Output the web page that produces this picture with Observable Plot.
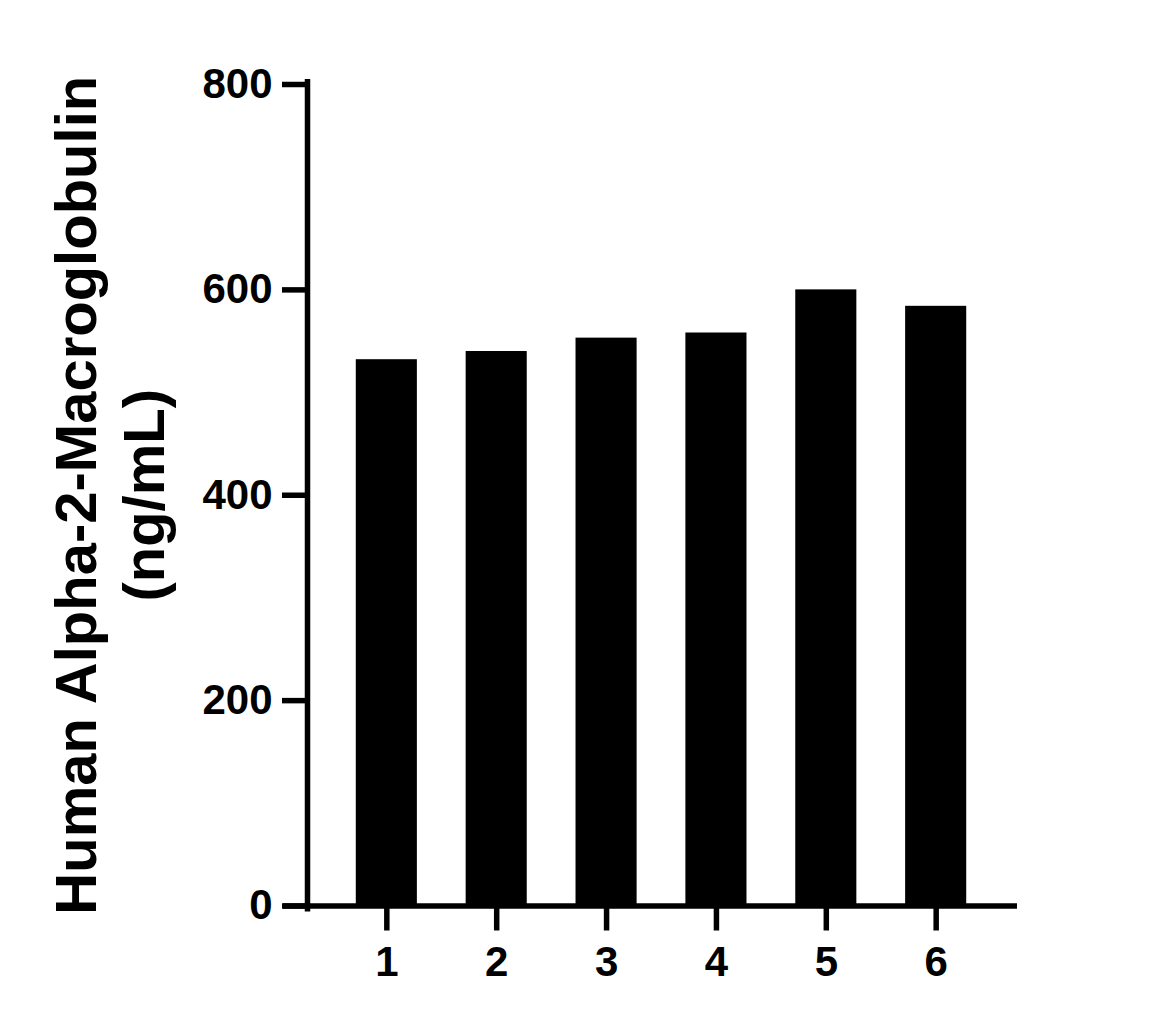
<!DOCTYPE html>
<html>
<head>
<meta charset="utf-8">
<script src="https://cdn.jsdelivr.net/npm/d3@7"></script>
<script src="https://cdn.jsdelivr.net/npm/@observablehq/plot@0.6"></script>
<style>
  html, body { margin: 0; padding: 0; background: #fff; }
</style>
</head>
<body>
<div id="chart"></div>
<script>
const samples = ["1", "2", "3", "4", "5", "6"];
const values = [532, 540, 553, 558, 600, 584];
const yTicks = [0, 200, 400, 600, 800];
const yLabel = "Human Alpha-2-Macroglobulin\n(ng/mL)";

const data = samples.map((s, i) => ({sample: s, value: values[i]}));

const chart = Plot.plot({
  width: 1149,
  height: 1023,
  marginLeft: 307,
  marginRight: 134,
  marginTop: 84,
  marginBottom: 117.5,
  style: {fontFamily: "'Liberation Sans', Arial, sans-serif", background: "#fff", color: "#000"},
  x: {domain: samples, padding: 0.444, round: false, axis: null},
  y: {domain: [0, 800], axis: null},
  marks: [
    Plot.barY(data, {x: "sample", y: "value", fill: "#000"}),
    Plot.frame({anchor: "left", stroke: "#000", strokeWidth: 5.5, insetTop: -2.75, insetBottom: -2.75}),
    Plot.ruleY([0], {stroke: "#000", strokeWidth: 5.5, insetLeft: -24, insetRight: -2}),
    Plot.axisY({ticks: yTicks, tickSize: 25, tickPadding: 10, strokeWidth: 5.5, fontSize: 42, fontWeight: "bold", label: null, tickFormat: d => String(d)}),
    Plot.axisX({tickSize: 25, tickPadding: 15, strokeWidth: 5.5, fontSize: 42, fontWeight: "bold", label: null}),
    Plot.text([yLabel], {frameAnchor: "left", textAnchor: "middle", rotate: -90, dx: -199, fontSize: 58, fontWeight: "bold", lineHeight: 1.17, fill: "#000"})
  ]
});
document.getElementById("chart").appendChild(chart);
</script>
</body>
</html>
